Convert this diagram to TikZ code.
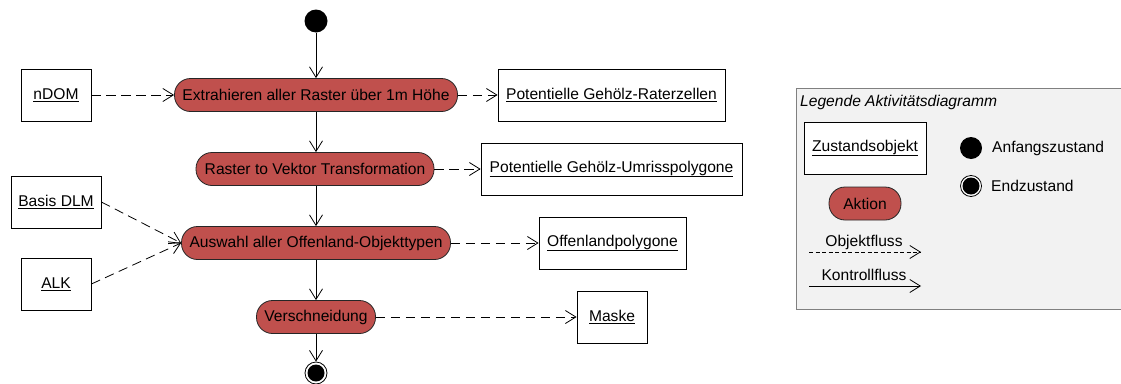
\documentclass[tikz,border=0pt]{standalone}
\usepackage{fontspec}
\setmainfont{Liberation Sans}
\usetikzlibrary{arrows.meta}
\definecolor{actred}{HTML}{C0504D}
\definecolor{legbg}{HTML}{F2F2F2}
\definecolor{legframe}{HTML}{808080}

\begin{document}
\begin{tikzpicture}[x=1pt,y=-1pt,
  font=\fontsize{15.6}{18}\selectfont,
  every node/.style={inner sep=0pt},
  action/.style={draw=black!85, fill=actred, rounded corners=16pt,
    minimum height=33pt, line width=0.8pt},
  object/.style={draw, fill=white, minimum height=52pt, line width=0.8pt},
  startstate/.style={circle, fill=black, minimum size=23pt},
  endstate/.style={circle, draw, fill=white, minimum size=22pt, line width=0.8pt,
    path picture={\fill[black] (path picture bounding box.center) circle (8.5pt);}},
  ctrl/.style={line width=0.8pt, -{Straight Barb[length=10.5pt,width=13pt]}},
  objflow/.style={ctrl, dash pattern=on 9.5pt off 5.5pt},
  legtext/.style={anchor=west},
]
\useasboundingbox (0,0) rectangle (1121,383);

% activity flow
\node[startstate] (start) at (316,21) {};
\node[action, minimum width=283pt] (a1) at (316,95) {Extrahieren aller Raster über 1m Höhe};
\node[action, minimum width=238pt] (a2) at (315,169) {Raster to Vektor Transformation};
\node[action, minimum width=269pt] (a3) at (316,243) {Auswahl aller Offenland-Objekttypen};
\node[action, minimum width=119pt] (a4) at (316,317) {Verschneidung};
\node[endstate] (end) at (316,373) {};

% objects
\node[object, minimum width=70pt] (ndom) at (56,95) {\underline{nDOM}};
\node[object, minimum width=227pt] (rast) at (611.5,95) {\underline{Potentielle Gehölz-Raterzellen}};
\node[object, minimum width=261pt] (umr) at (611.5,169) {\underline{Potentielle Gehölz-Umrisspolygone}};
\node[object, minimum width=90pt] (dlm) at (56,202) {\underline{Basis DLM}};
\node[object, minimum width=70pt] (alk) at (56,284) {\underline{ALK}};
\node[object, minimum width=147pt] (off) at (612.5,243) {\underline{Offenlandpolygone}};
\node[object, minimum width=70pt] (mask) at (612,317) {\underline{Maske}};

% control flow
\draw[ctrl] (start) -- (a1);
\draw[ctrl] (a1) -- (a2.north -| a1);
\draw[ctrl] (a2.south -| a1) -- (a3);
\draw[ctrl] (a3) -- (a4);
\draw[ctrl] (a4) -- (end);

% object flow
\draw[objflow] (ndom.east) -- (a1.west);
\draw[objflow] (a1.east) -- (rast.west);
\draw[objflow] (a2.east) -- (umr.west);
\draw[objflow] (dlm.east) -- (a3.west);
\draw[objflow] (alk.east) -- (a3.west);
\draw[objflow] (a3.east) -- (off.west);
\draw[objflow] (a4.east) -- (mask.west);

% legend
\draw[fill=legbg, draw=legframe, line width=0.8pt] (796,88) rectangle (1130,309);
\node[legtext, font=\fontsize{15.6}{18}\selectfont\itshape] (legtitle) at (800,102) {Legende Aktivitätsdiagramm};
\node[object, minimum width=122pt] (legobj) at (865,148) {\underline{Zustandsobjekt}};
\node[action, minimum width=72pt] (legact) at (865,203.5) {Aktion};
\node[startstate, minimum size=22pt] (legstart) at (971,148) {};
\node[legtext] (legstarttext) at (992,148) {Anfangszustand};
\node[endstate, minimum size=21pt] (legend) at (971,186) {};
\node[legtext] (legendtext) at (991,186) {Endzustand};
\coordinate (oa) at (809,252);
\coordinate (ob) at (921,252);
\draw[ctrl, dash pattern=on 4pt off 2.5pt] (oa) -- (ob);
\node (objlabel) at (864,242) {Objektfluss};
\coordinate (ka) at (809,286);
\coordinate (kb) at (921,286);
\draw[ctrl] (ka) -- (kb);
\node (ctrllabel) at (864,275) {Kontrollfluss};
\end{tikzpicture}
\end{document}
